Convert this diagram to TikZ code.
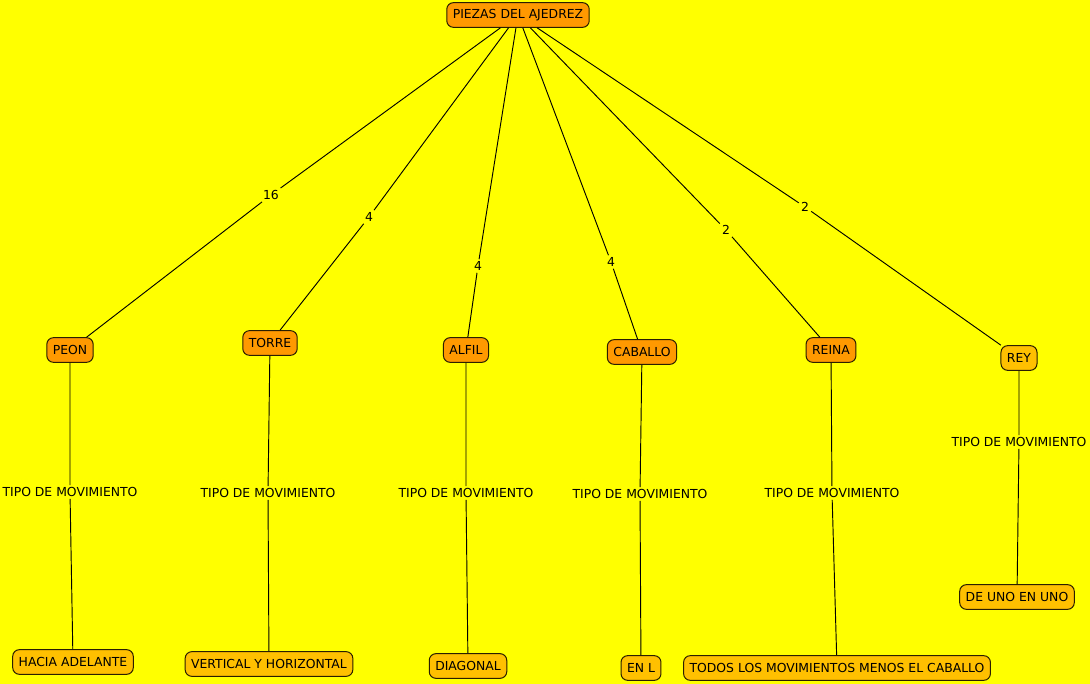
\documentclass[tikz,border=0pt]{standalone}
\usepackage{fontspec}
\setmainfont{DejaVu Sans}
\usetikzlibrary{positioning}
\definecolor{bgyellow}{HTML}{FFFF00}
\definecolor{pieceorange}{HTML}{FF9900}
\definecolor{movegold}{HTML}{FFC000}
\definecolor{edgebrown}{HTML}{2A1E00}

\begin{document}
\begin{tikzpicture}[
    x=0.75pt, y=-0.75pt,
    box/.style={draw=edgebrown, line width=0.75pt, rounded corners=5pt, minimum height=18.5pt, inner xsep=4.5pt, font=\fontsize{9.3}{11}\selectfont},
    piece/.style={box, fill=pieceorange},
    moveto/.style={box, fill=movegold},
    lbl/.style={fill=bgyellow, inner sep=1.5pt, font=\fontsize{9.3}{11}\selectfont},
    link/.style={draw=black, line width=0.7pt}
]
\fill[bgyellow] (0,0) rectangle (1090,684);
\useasboundingbox (0,0) rectangle (1090,684);

% root and pieces
\node[piece] (root) at (518,15) {PIEZAS DEL AJEDREZ};
\node[piece] (peon) at (70,350) {PEON};
\node[piece] (torre) at (270,343) {TORRE};
\node[piece] (alfil) at (466,350) {ALFIL};
\node[piece] (caballo) at (642,352) {CABALLO};
\node[piece] (reina) at (831,350) {REINA};
\node[moveto] (rey) at (1019,358) {REY};

% kinds of movement
\node[moveto] (adelante) at (73,662) {HACIA ADELANTE};
\node[moveto] (vertical) at (269,664) {VERTICAL Y HORIZONTAL};
\node[moveto] (diagonal) at (468,666) {DIAGONAL};
\node[moveto] (enl) at (641,668) {EN L};
\node[moveto] (todos) at (837,668) {TODOS LOS MOVIMIENTOS MENOS EL CABALLO};
\node[moveto] (unoenuno) at (1017,597) {DE UNO EN UNO};

% counts
\node[lbl] (n16) at (271,195) {16};
\node[lbl] (ntorre) at (369,217) {4};
\node[lbl] (nalfil) at (478,266) {4};
\node[lbl] (ncaballo) at (611,262) {4};
\node[lbl] (nreina) at (726,230) {2};
\node[lbl] (nrey) at (805,207) {2};

% movement labels
\node[lbl] (tpeon) at (70,492) {TIPO DE MOVIMIENTO};
\node[lbl] (ttorre) at (268,493) {TIPO DE MOVIMIENTO};
\node[lbl] (talfil) at (466,493) {TIPO DE MOVIMIENTO};
\node[lbl] (tcaballo) at (640,494) {TIPO DE MOVIMIENTO};
\node[lbl] (treina) at (832,493) {TIPO DE MOVIMIENTO};
\node[lbl] (trey) at (1019,442) {TIPO DE MOVIMIENTO};

\draw[link] (root) -- (n16) -- (peon);
\draw[link] (root) -- (ntorre) -- (torre);
\draw[link] (root) -- (nalfil) -- (alfil);
\draw[link] (root) -- (ncaballo) -- (caballo);
\draw[link] (root) -- (nreina) -- (reina);
\draw[link] (root) -- (nrey) -- (rey);

\draw[link] (peon) -- (tpeon) -- (adelante);
\draw[link] (torre) -- (ttorre) -- (vertical);
\draw[link] (alfil) -- (talfil) -- (diagonal);
\draw[link] (caballo) -- (tcaballo) -- (enl);
\draw[link] (reina) -- (treina) -- (todos);
\draw[link] (rey) -- (trey) -- (unoenuno);

\end{tikzpicture}
\end{document}
